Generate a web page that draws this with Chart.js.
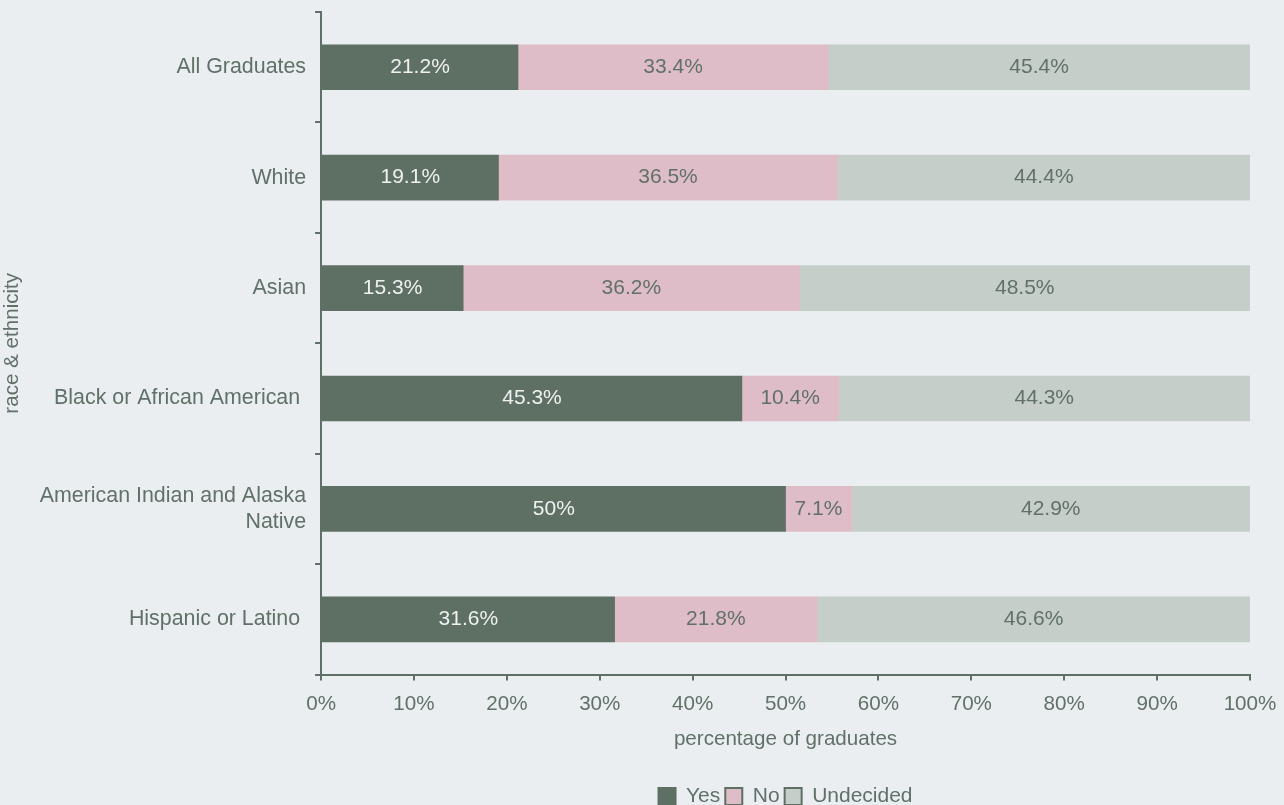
<!DOCTYPE html>
<html>
<head>
<meta charset="utf-8">
<script src="https://cdn.jsdelivr.net/npm/chart.js@4"></script>
<style>
  html, body { margin: 0; padding: 0; background: #eaeef0; }
  #wrap { width: 1284px; height: 805px; }
</style>
</head>
<body>
<div id="wrap"><canvas id="c" width="1284" height="805"></canvas></div>
<script>
const categories = [
  "All Graduates",
  "White",
  "Asian",
  "Black or African American ",
  ["American Indian and Alaska", "Native"],
  "Hispanic or Latino "
];
const yesValues = [21.2, 19.1, 15.3, 45.3, 50, 31.6];
const noValues = [33.4, 36.5, 36.2, 10.4, 7.1, 21.8];
const undecidedValues = [45.4, 44.4, 48.5, 44.3, 42.9, 46.6];
const seriesNames = ["Yes", "No", "Undecided"];
const xTickValues = [0, 10, 20, 30, 40, 50, 60, 70, 80, 90, 100];

const TEXT = "#617068";
const AXIS = "#5f7066";
const FONT = "'Liberation Sans', Arial, Helvetica, sans-serif";

const valueLabels = {
  id: "valueLabels",
  afterDatasetsDraw(chart) {
    const ctx = chart.ctx;
    ctx.save();
    ctx.font = "21px " + FONT;
    ctx.textAlign = "center";
    ctx.textBaseline = "middle";
    chart.data.datasets.forEach((ds, i) => {
      const meta = chart.getDatasetMeta(i);
      meta.data.forEach((el, j) => {
        const p = el.getCenterPoint();
        ctx.fillStyle = ds.labelColor;
        ctx.fillText(ds.data[j] + "%", p.x, p.y);
      });
    });
    ctx.restore();
  }
};

const bg = {
  id: "bg",
  beforeDraw(chart) {
    const ctx = chart.ctx;
    ctx.save();
    ctx.fillStyle = "#eaeef0";
    ctx.fillRect(0, 0, chart.width, chart.height);
    ctx.restore();
  }
};

new Chart(document.getElementById("c"), {
  type: "bar",
  data: {
    labels: categories,
    datasets: [
      { label: seriesNames[0], data: yesValues, backgroundColor: "#5e6f64", borderColor: "#5e6f64", borderWidth: 0, labelColor: "#eef1f0" },
      { label: seriesNames[1], data: noValues, backgroundColor: "#dfbdc8", borderColor: "#5e6f64", borderWidth: 0, labelColor: TEXT },
      { label: seriesNames[2], data: undecidedValues, backgroundColor: "#c6ceca", borderColor: "#5e6f64", borderWidth: 0, labelColor: TEXT }
    ]
  },
  options: {
    indexAxis: "y",
    responsive: false,
    animation: false,
    devicePixelRatio: 1,
    layout: { padding: { top: 12, right: 34, left: 0, bottom: -12 } },
    datasets: { bar: { barThickness: 45 } },
    scales: {
      x: {
        stacked: true,
        min: 0,
        max: 100,
        afterBuildTicks(scale) { scale.ticks = xTickValues.map(v => ({ value: v })); },
        afterFit(scale) { scale.paddingRight = 0; scale.paddingLeft = 0; },
        ticks: { color: TEXT, font: { family: FONT, size: 20.6 }, padding: 11, callback: v => v + "%" },
        grid: { drawOnChartArea: false, drawTicks: true, tickLength: 6, color: AXIS, lineWidth: 2 },
        border: { display: true, color: AXIS, width: 2 },
        title: { display: true, text: "percentage of graduates", color: TEXT, font: { family: FONT, size: 20.6 }, padding: { top: 0, bottom: 29 } }
      },
      y: {
        stacked: true,
        offset: true,
        afterFit(scale) { scale.paddingTop = 0; scale.paddingBottom = 0; },
        ticks: { color: TEXT, font: { family: FONT, size: 21.4 }, padding: 9 },
        grid: { offset: true, drawOnChartArea: false, drawTicks: true, tickLength: 6, color: AXIS, lineWidth: 2 },
        border: { display: true, color: AXIS, width: 2 },
        title: { display: true, text: "race & ethnicity", color: TEXT, font: { family: FONT, size: 20.6 }, padding: { top: 0, bottom: 6 } }
      }
    },
    plugins: {
      tooltip: { enabled: false },
      legend: {
        position: "bottom",
        fullSize: false,
        labels: {
          color: TEXT,
          font: { family: FONT, size: 21 },
          boxWidth: 17,
          boxHeight: 17,
          padding: 5,
          generateLabels(chart) {
            return chart.data.datasets.map((ds, i) => ({
              text: ds.label,
              fillStyle: ds.backgroundColor,
              strokeStyle: "#5e6f64",
              lineWidth: 2,
              fontColor: TEXT,
              hidden: false,
              datasetIndex: i
            }));
          }
        }
      }
    }
  },
  plugins: [bg, valueLabels]
});
</script>
</body>
</html>
